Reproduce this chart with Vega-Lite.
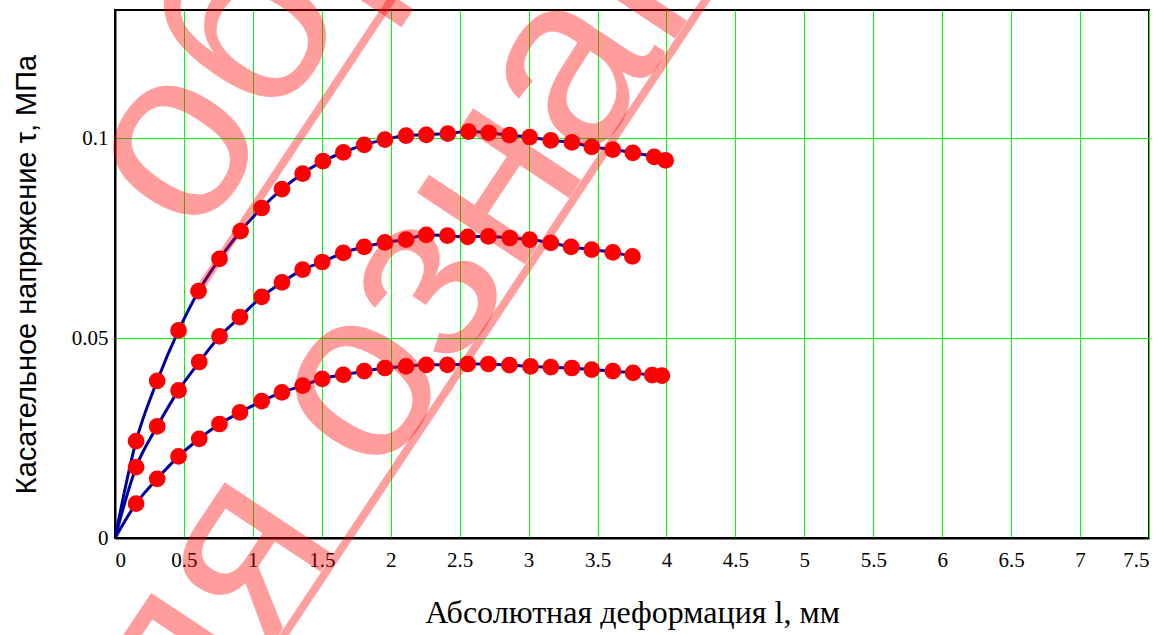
{
  "$schema": "https://vega.github.io/schema/vega-lite/v6.json",
  "width": 1034,
  "height": 528,
  "autosize": {"type": "none"},
  "padding": {"left": 115, "top": 10, "right": 25, "bottom": 97},
  "background": "white",
  "config": {
    "view": {"stroke": "black", "strokeWidth": 2},
    "axis": {
      "domain": true, "domainColor": "black", "domainWidth": 2,
      "ticks": false,
      "grid": true, "gridColor": "#00ff00", "gridWidth": 1,
      "labelColor": "black",
      "titleColor": "black", "titleFontWeight": "normal"
    }
  },
  "datasets": {
    "curves": [
      {"s": "A", "x": 0, "y": 0},
      {"s": "A", "x": 0.153, "y": 0.0242},
      {"s": "A", "x": 0.306, "y": 0.0393},
      {"s": "A", "x": 0.461, "y": 0.0519},
      {"s": "A", "x": 0.606, "y": 0.0617},
      {"s": "A", "x": 0.758, "y": 0.0698},
      {"s": "A", "x": 0.911, "y": 0.0767},
      {"s": "A", "x": 1.064, "y": 0.0825},
      {"s": "A", "x": 1.211, "y": 0.0872},
      {"s": "A", "x": 1.361, "y": 0.0911},
      {"s": "A", "x": 1.508, "y": 0.0942},
      {"s": "A", "x": 1.656, "y": 0.0964},
      {"s": "A", "x": 1.808, "y": 0.0983},
      {"s": "A", "x": 1.958, "y": 0.0996},
      {"s": "A", "x": 2.111, "y": 0.1006},
      {"s": "A", "x": 2.258, "y": 0.1008},
      {"s": "A", "x": 2.414, "y": 0.1011},
      {"s": "A", "x": 2.564, "y": 0.1016},
      {"s": "A", "x": 2.711, "y": 0.1013},
      {"s": "A", "x": 2.861, "y": 0.1007},
      {"s": "A", "x": 3.008, "y": 0.1002},
      {"s": "A", "x": 3.161, "y": 0.0994},
      {"s": "A", "x": 3.314, "y": 0.0989},
      {"s": "A", "x": 3.458, "y": 0.0978},
      {"s": "A", "x": 3.611, "y": 0.0971},
      {"s": "A", "x": 3.756, "y": 0.0963},
      {"s": "A", "x": 3.911, "y": 0.0953},
      {"s": "A", "x": 3.994, "y": 0.0944},
      {"s": "B", "x": 0, "y": 0},
      {"s": "B", "x": 0.153, "y": 0.0177},
      {"s": "B", "x": 0.306, "y": 0.0279},
      {"s": "B", "x": 0.461, "y": 0.0369},
      {"s": "B", "x": 0.611, "y": 0.0440},
      {"s": "B", "x": 0.758, "y": 0.0504},
      {"s": "B", "x": 0.906, "y": 0.0552},
      {"s": "B", "x": 1.064, "y": 0.0603},
      {"s": "B", "x": 1.211, "y": 0.0639},
      {"s": "B", "x": 1.361, "y": 0.0671},
      {"s": "B", "x": 1.503, "y": 0.0690},
      {"s": "B", "x": 1.656, "y": 0.0713},
      {"s": "B", "x": 1.808, "y": 0.0728},
      {"s": "B", "x": 1.958, "y": 0.0739},
      {"s": "B", "x": 2.111, "y": 0.0746},
      {"s": "B", "x": 2.258, "y": 0.0758},
      {"s": "B", "x": 2.411, "y": 0.0756},
      {"s": "B", "x": 2.558, "y": 0.0753},
      {"s": "B", "x": 2.708, "y": 0.0754},
      {"s": "B", "x": 2.864, "y": 0.0750},
      {"s": "B", "x": 3.008, "y": 0.0746},
      {"s": "B", "x": 3.161, "y": 0.0738},
      {"s": "B", "x": 3.308, "y": 0.0728},
      {"s": "B", "x": 3.458, "y": 0.0721},
      {"s": "B", "x": 3.611, "y": 0.0714},
      {"s": "B", "x": 3.753, "y": 0.0704},
      {"s": "C", "x": 0, "y": 0},
      {"s": "C", "x": 0.153, "y": 0.0086},
      {"s": "C", "x": 0.306, "y": 0.0148},
      {"s": "C", "x": 0.461, "y": 0.0204},
      {"s": "C", "x": 0.611, "y": 0.0248},
      {"s": "C", "x": 0.758, "y": 0.0285},
      {"s": "C", "x": 0.906, "y": 0.0314},
      {"s": "C", "x": 1.064, "y": 0.0342},
      {"s": "C", "x": 1.211, "y": 0.0364},
      {"s": "C", "x": 1.361, "y": 0.0381},
      {"s": "C", "x": 1.503, "y": 0.0398},
      {"s": "C", "x": 1.656, "y": 0.0408},
      {"s": "C", "x": 1.808, "y": 0.0417},
      {"s": "C", "x": 1.958, "y": 0.0425},
      {"s": "C", "x": 2.111, "y": 0.0429},
      {"s": "C", "x": 2.258, "y": 0.0433},
      {"s": "C", "x": 2.411, "y": 0.0433},
      {"s": "C", "x": 2.558, "y": 0.0435},
      {"s": "C", "x": 2.708, "y": 0.0435},
      {"s": "C", "x": 2.861, "y": 0.0432},
      {"s": "C", "x": 3.014, "y": 0.0429},
      {"s": "C", "x": 3.161, "y": 0.0427},
      {"s": "C", "x": 3.314, "y": 0.0425},
      {"s": "C", "x": 3.458, "y": 0.0421},
      {"s": "C", "x": 3.611, "y": 0.0417},
      {"s": "C", "x": 3.758, "y": 0.0413},
      {"s": "C", "x": 3.897, "y": 0.0407},
      {"s": "C", "x": 3.967, "y": 0.0406}
    ],
    "mark1": [{"t": "образец"}],
    "mark2": [{"t": "для ознакомления"}],
    "one": [{"k": 1}]
  },
  "layer": [
    {
      "data": {"name": "curves"},
      "encoding": {
        "x": {
          "field": "x", "type": "quantitative",
          "scale": {"domain": [0, 7.5], "nice": false, "zero": false},
          "axis": {
            "values": [0, 0.5, 1, 1.5, 2, 2.5, 3, 3.5, 4, 4.5, 5, 5.5, 6, 6.5, 7, 7.5],
            "labelExpr": "'' + datum.value",
            "labelFont": "Liberation Serif", "labelFontSize": 21,
            "labelPadding": 11,
            "title": "Абсолютная деформация l, мм",
            "titleFont": "Liberation Serif", "titleFontSize": 32,
            "titlePadding": 27
          }
        },
        "y": {
          "field": "y", "type": "quantitative",
          "scale": {"domain": [0, 0.132], "nice": false, "zero": false},
          "axis": {
            "values": [0, 0.05, 0.1],
            "labelExpr": "'' + datum.value",
            "labelFont": "Liberation Serif", "labelFontSize": 21,
            "labelPadding": 7,
            "title": "Касательное напряжение τ, МПа",
            "titleFont": "Liberation Sans", "titleFontSize": 29,
            "titlePadding": 30
          }
        }
      },
      "layer": [
        {
          "mark": {"type": "line", "color": "#0000a0", "strokeWidth": 3, "interpolate": "monotone", "clip": true},
          "encoding": {"detail": {"field": "s"}}
        },
        {
          "transform": [{"filter": "datum.x > 0"}],
          "mark": {"type": "point", "shape": "circle", "filled": true, "color": "#ff0000", "opacity": 1, "size": 280}
        }
      ]
    },
    {
      "data": {"name": "mark1"},
      "mark": {"type": "text", "font": "Liberation Sans", "fontSize": 245, "angle": -56.4, "align": "center", "baseline": "alphabetic", "color": "#ff0000", "opacity": 0.38},
      "encoding": {
        "x": {"datum": 2.466, "type": "quantitative", "scale": {"domain": [0, 7.5], "nice": false, "zero": false}},
        "y": {"datum": 0.1708, "type": "quantitative", "scale": {"domain": [0, 0.132], "nice": false, "zero": false}},
        "text": {"field": "t"}
      }
    },
    {
      "data": {"name": "mark2"},
      "mark": {"type": "text", "font": "Liberation Sans", "fontSize": 245, "angle": -56.4, "align": "center", "baseline": "alphabetic", "color": "#ff0000", "opacity": 0.38},
      "encoding": {
        "x": {"datum": 4.185, "type": "quantitative", "scale": {"domain": [0, 7.5], "nice": false, "zero": false}},
        "y": {"datum": 0.1313, "type": "quantitative", "scale": {"domain": [0, 0.132], "nice": false, "zero": false}},
        "text": {"field": "t"}
      }
    },
    {
      "data": {"name": "one"},
      "mark": {"type": "rule", "color": "#ff0000", "opacity": 0.38, "strokeWidth": 8},
      "encoding": {
        "x": {"datum": 0.606, "type": "quantitative", "scale": {"domain": [0, 7.5], "nice": false, "zero": false}},
        "y": {"datum": 0.0619, "type": "quantitative", "scale": {"domain": [0, 0.132], "nice": false, "zero": false}},
        "x2": {"datum": 2.339},
        "y2": {"datum": 0.1519}
      }
    },
    {
      "data": {"name": "one"},
      "mark": {"type": "rule", "color": "#ff0000", "opacity": 0.38, "strokeWidth": 8},
      "encoding": {
        "x": {"datum": 0.713, "type": "quantitative", "scale": {"domain": [0, 7.5], "nice": false, "zero": false}},
        "y": {"datum": -0.0509, "type": "quantitative", "scale": {"domain": [0, 0.132], "nice": false, "zero": false}},
        "x2": {"datum": 4.724},
        "y2": {"datum": 0.1573}
      }
    }
  ]
}
